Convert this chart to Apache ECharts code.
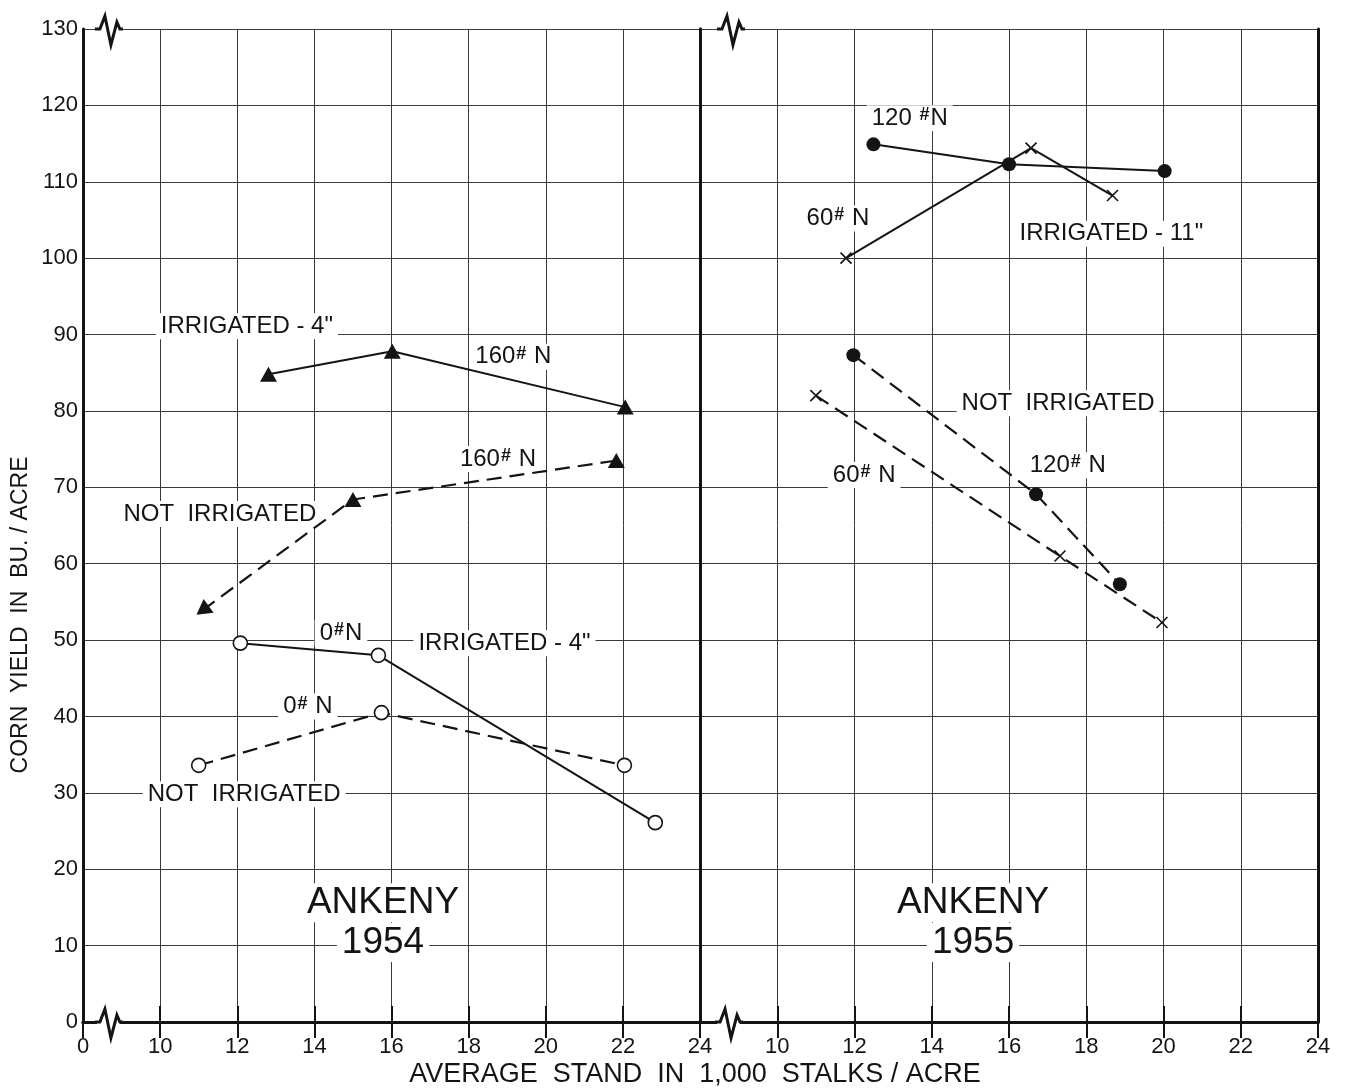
<!DOCTYPE html>
<html><head><meta charset="utf-8">
<script src="https://cdn.jsdelivr.net/npm/echarts@6.0.0/dist/echarts.min.js"></script>
<style>html,body{margin:0;padding:0;background:#fff}#c{width:1345px;height:1090px}</style>
</head><body><div id="c"></div><script>
// ---- axis ticks ----
const xTickValues = [8, 10, 12, 14, 16, 18, 20, 22, 24];
const xTickLabels1954 = ['0', '10', '12', '14', '16', '18', '20', '22', '24'];
const xTickLabels1955 = ['', '10', '12', '14', '16', '18', '20', '22', '24'];
const yMin = 0, yMax = 130, yStep = 10;

// ---- 1954 panel ----
const irr160_1954 = [[12.81, 84.8], [16.02, 87.8], [22.06, 80.5]];
const ni160_1954  = [[11.10, 53.9], [15.00, 68.4], [21.83, 73.5]];
const irr0_1954   = [[12.08, 49.6], [15.66, 48.0], [22.84, 26.1]];
const ni0_1954    = [[11.00, 33.6], [15.74, 40.5], [22.04, 33.6]];

// ---- 1955 panel ----
const irr120_1955 = [[12.49, 114.9], [16.00, 112.3], [20.03, 111.4]];
const irr60_1955  = [[11.78, 100.0], [16.57, 114.4], [18.68, 108.2]];
const ni120_1955  = [[11.97, 87.3], [16.70, 69.1], [18.87, 57.3]];
const ni60_1955   = [[11.00, 82.0], [17.32, 61.0], [19.96, 52.3]];

// ---- annotations [x, y, text] ----
const notes1954 = [
  [12.25, 91.1, 'IRRIGATED - 4"'],
  [19.16, 87.1, '160{s|#} N'],
  [18.76, 73.7, '160{s|#} N'],
  [11.55, 66.5, 'NOT  IRRIGATED'],
  [14.69, 50.9, '0{s|#}N'],
  [18.93, 49.6, 'IRRIGATED - 4"'],
  [13.83, 41.3, '0{s|#} N'],
  [12.18, 29.8, 'NOT  IRRIGATED']
];
const notes1955 = [
  [13.43, 118.3, '120 {s|#}N'],
  [11.57, 105.2, '60{s|#} N'],
  [18.65, 103.2, 'IRRIGATED - 11"'],
  [17.27, 81.0, 'NOT  IRRIGATED'],
  [17.52, 72.9, '120{s|#} N'],
  [12.25, 71.6, '60{s|#} N']
];
const titles1954 = [[15.78, 15.6, 'ANKENY'], [15.78, 10.4, '1954']];
const titles1955 = [[15.07, 15.6, 'ANKENY'], [15.07, 10.4, '1955']];
const breaks1954 = [[8.62, 130], [8.62, 0]];
const breaks1955 = [[8.75, 130], [8.70, 0]];

const INK = '#141414';
const FONT = '"Liberation Sans", Arial, sans-serif';

const chart = echarts.init(document.getElementById('c'), null, {renderer: 'canvas'});

function xAxisBottom(gi, labels) {
  return {
    type: 'value', gridIndex: gi, position: 'bottom', min: 8, max: 24, interval: 2,
    axisLine: {show: true, lineStyle: {color: INK, width: 3}},
    axisTick: {show: true, inside: true, length: 16, lineStyle: {color: INK, width: 2}},
    axisLabel: {show: true, margin: 14, color: INK, fontSize: 22, fontFamily: FONT,
      formatter: v => { const i = xTickValues.indexOf(v); return i >= 0 ? labels[i] : ''; },
      showMinLabel: true, showMaxLabel: true},
    splitLine: {show: true, lineStyle: {color: '#3a3a3a', width: 1}}
  };
}
function xAxisTop(gi) {
  return {
    type: 'value', gridIndex: gi, position: 'top', min: 8, max: 24, interval: 2,
    axisLine: {show: true, lineStyle: {color: INK, width: 3}},
    axisTick: {show: true, inside: true, length: 16, lineStyle: {color: INK, width: 2}},
    axisLabel: {show: false}, splitLine: {show: false}
  };
}
function yAxisDef(gi, pos, labels, split) {
  return {
    type: 'value', gridIndex: gi, position: pos, min: yMin, max: yMax, interval: yStep,
    axisLine: {show: true, lineStyle: {color: INK, width: 3}},
    axisTick: {show: false},
    axisLabel: {show: labels, margin: 5, color: INK, fontSize: 22, fontFamily: FONT},
    splitLine: {show: split, lineStyle: {color: '#3a3a3a', width: 1}}
  };
}

function breakSeries(xi, yi, data) {
  return {
    type: 'custom', xAxisIndex: xi, yAxisIndex: yi, z: 5, silent: true, clip: false,
    data: data,
    renderItem: function (params, api) {
      const p = api.coord([api.value(0), api.value(1)]);
      const x = p[0], y = p[1];
      return {
        type: 'group', children: [
          {type: 'rect', shape: {x: x - 10, y: y - 3, width: 23, height: 6}, style: {fill: '#fff'}},
          {type: 'polyline', shape: {points: [[x - 12, y], [x - 7, y], [x - 2, y - 13], [x + 4, y + 16], [x + 10, y - 7], [x + 13, y], [x + 16, y]]},
            style: {stroke: INK, lineWidth: 3, fill: null, lineJoin: 'miter'}}
        ]
      };
    }
  };
}

const richS = {s: {fontSize: 18, fontWeight: 'bold', fontFamily: FONT, color: INK, verticalAlign: 'top', lineHeight: 18, padding: [0, 1, 10, 1]}};

function noteSeries(xi, yi, data, size) {
  return {
    type: 'scatter', xAxisIndex: xi, yAxisIndex: yi, z: 1, silent: true,
    symbolSize: 0, data: data,
    itemStyle: {opacity: 1},
    label: {show: true, position: 'inside', color: INK, opacity: 1, textBorderWidth: 0,
      fontSize: size, fontFamily: FONT,
      backgroundColor: '#fff', padding: [1, 5],
      formatter: p => p.value[2], rich: richS}
  };
}

const X_PATH = 'path://M0,0L10,10M10,0L0,10';

function lineSeries(xi, yi, data, dashed, marker) {
  const s = {
    type: 'line', xAxisIndex: xi, yAxisIndex: yi, z: 3, silent: true,
    data: data, showAllSymbol: true,
    lineStyle: {color: INK, width: dashed ? 2.2 : 2, type: dashed ? [15, 8] : 'solid'}
  };
  if (marker === 'tri') { s.symbol = 'triangle'; s.symbolSize = [17, 15]; s.itemStyle = {color: INK}; }
  if (marker === 'open') { s.symbol = 'circle'; s.symbolSize = 14; s.itemStyle = {color: '#fff', borderColor: INK, borderWidth: 1.6}; }
  if (marker === 'dot') { s.symbol = 'circle'; s.symbolSize = 14; s.itemStyle = {color: INK}; }
  if (marker === 'x') { s.symbol = X_PATH; s.symbolSize = 11; s.itemStyle = {color: 'rgba(0,0,0,0)', borderColor: INK, borderWidth: 1.6}; }
  return s;
}

// first point of not-irrigated 160 looks like an arrowhead
const ni160Data = ni160_1954.map((d, i) => i === 0 ? {value: d, symbolRotate: 126} : d);

const option = {
  backgroundColor: '#fff',
  animation: false,
  grid: [
    {left: 83, top: 29, width: 617, height: 993},
    {left: 700, top: 29, width: 618, height: 993}
  ],
  xAxis: [xAxisBottom(0, xTickLabels1954), xAxisTop(0), xAxisBottom(1, xTickLabels1955), xAxisTop(1)],
  yAxis: [yAxisDef(0, 'left', true, true), yAxisDef(0, 'right', false, false),
          yAxisDef(1, 'left', false, true), yAxisDef(1, 'right', false, false)],
  graphic: [
    {type: 'text', x: 21, y: 615, rotation: Math.PI / 2,
      style: {text: 'CORN  YIELD  IN  BU. / ACRE', fill: INK, font: '23px ' + FONT, textAlign: 'center', textVerticalAlign: 'middle'}},
    {type: 'text', x: 695, y: 1075,
      style: {text: 'AVERAGE  STAND  IN  1,000  STALKS / ACRE', fill: INK, font: '27px ' + FONT, textAlign: 'center', textVerticalAlign: 'middle'}}
  ],
  series: [
    noteSeries(0, 0, notes1954, 24),
    noteSeries(0, 0, titles1954, 37),
    noteSeries(2, 2, notes1955, 24),
    noteSeries(2, 2, titles1955, 37),
    lineSeries(0, 0, irr160_1954, false, 'tri'),
    lineSeries(0, 0, ni160Data, true, 'tri'),
    lineSeries(0, 0, irr0_1954, false, 'open'),
    lineSeries(0, 0, ni0_1954, true, 'open'),
    lineSeries(2, 2, irr60_1955, false, 'x'),
    lineSeries(2, 2, irr120_1955, false, 'dot'),
    lineSeries(2, 2, ni120_1955, true, 'dot'),
    lineSeries(2, 2, ni60_1955, true, 'x'),
    breakSeries(1, 0, breaks1954.slice(0, 1)),
    breakSeries(0, 0, breaks1954.slice(1)),
    breakSeries(3, 2, breaks1955.slice(0, 1)),
    breakSeries(2, 2, breaks1955.slice(1))
  ]
};
chart.setOption(option);
</script></body></html>
